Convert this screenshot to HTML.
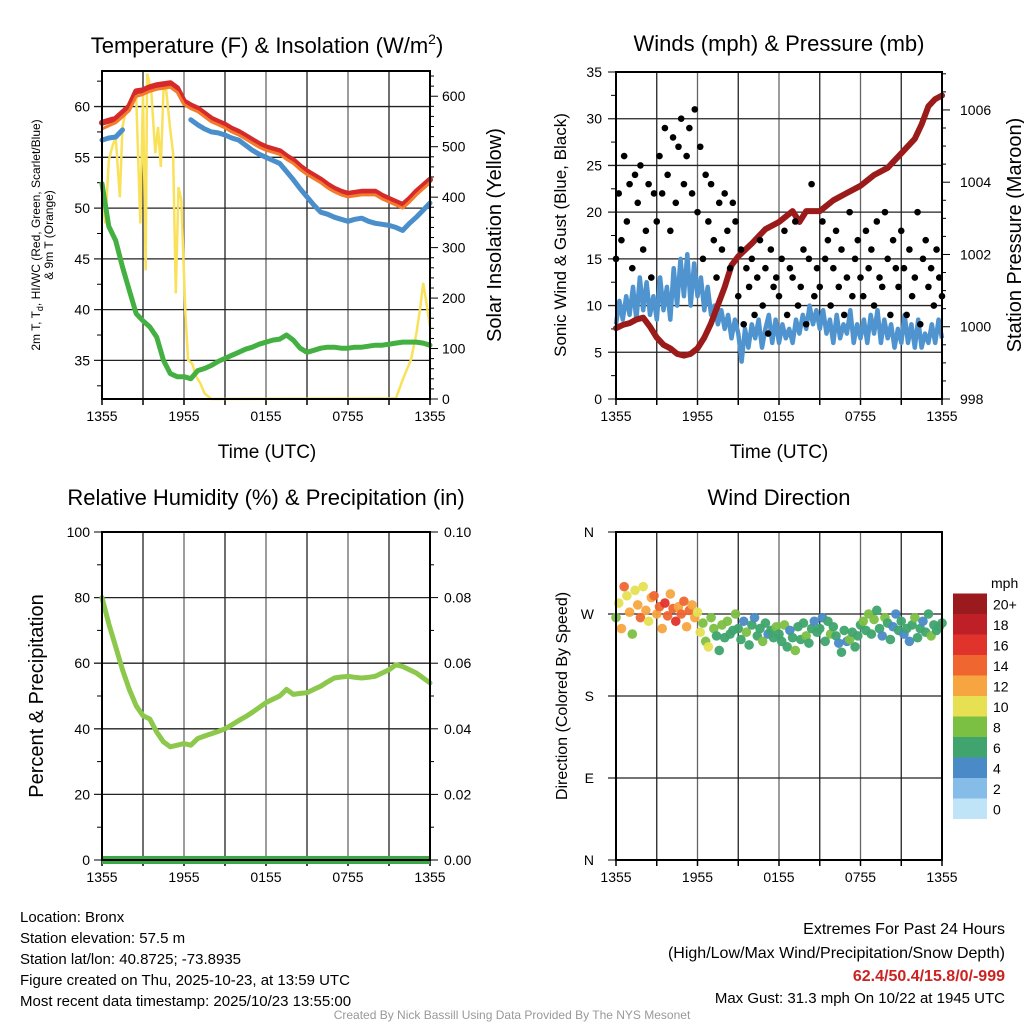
<!DOCTYPE html>
<html><head><meta charset="utf-8"><style>
body{margin:0;background:#fff;}
svg{display:block;font-family:"Liberation Sans",sans-serif;}
</style></head><body>
<svg id="c" width="1024" height="1024" viewBox="0 0 1024 1024"></svg>
<script>
// ---------- data ----------
const xTickLabels=["1355","1955","0155","0755","1355"];
const tHalf=[0,0.5,1,1.5,2,2.5,3,3.5,4,4.5,5,5.5,6,6.5,7,7.5,8,8.5,9,9.5,10,10.5,11,11.5,12,12.5,13,13.5,14,14.5,15,15.5,16,16.5,17,17.5,18,18.5,19,19.5,20,20.5,21,21.5,22,22.5,23,23.5,24];
const tempRed=[58.4,58.6,58.8,59.4,60,61.5,61.6,61.9,62.1,62.2,62.3,61.8,60.5,60.1,59.8,59.3,58.8,58.5,58.2,57.8,57.5,57.1,56.7,56.3,56,55.8,55.6,55.1,54.7,54.1,53.6,53.2,52.8,52.3,51.9,51.6,51.4,51.5,51.6,51.6,51.6,51.2,50.9,50.6,50.3,50.9,51.6,52.2,52.8];
const temp9m=[57.8,58.1,58.4,59,59.6,61,61.2,61.5,61.7,61.8,61.9,61.4,60.2,59.8,59.5,59,58.5,58.2,57.9,57.5,57.2,56.8,56.4,56,55.7,55.5,55.3,54.8,54.4,53.8,53.3,52.9,52.5,52,51.6,51.3,51.1,51.2,51.3,51.3,51.3,50.9,50.6,50.3,50.0,50.6,51.3,51.9,52.5];
const windChill=[56.7,56.9,57,57.7,null,null,null,null,null,null,null,null,null,58.7,58.2,57.8,57.5,57.4,57.2,56.9,56.7,56.2,55.7,55.3,55,54.7,54.4,53.6,52.8,51.9,51.1,50.3,49.6,49.4,49.1,48.9,48.7,48.9,49,48.7,48.5,48.4,48.3,48.1,47.8,48.5,49.1,49.8,50.5];
const dewpoint=[52.4,48.2,46.8,44.2,41.9,39.6,38.9,38.3,37.3,35,33.7,33.4,33.4,33.2,34,34.2,34.5,34.9,35.2,35.5,35.8,36.1,36.3,36.6,36.8,37,37.1,37.5,37,36.2,35.8,36,36.2,36.3,36.3,36.2,36.2,36.3,36.3,36.4,36.5,36.5,36.6,36.7,36.8,36.8,36.8,36.7,36.5];
const solarT=[0,0.25,0.5,0.75,1,1.3,1.5,1.8,2.2,2.5,2.8,3,3.2,3.3,3.6,3.9,4.1,4.3,4.5,4.7,5,5.2,5.4,5.6,5.8,6.1,6.3,6.6,6.9,7.2,7.5,8,21.5,22,22.3,22.6,23,23.3,23.5,23.7,24];
const solarV=[394,348,473,500,519,400,539,579,599,599,348,605,255,645,612,487,539,460,612,612,533,487,209,420,394,170,77,70,44,31,11,0,1,38,58,77,129,183,230,197,143];
const sonicWind=[8,10.5,8.5,11,9,12,8.5,13,9.5,12.5,9,11,8.5,13,9.5,12,8.5,14,10,15,11,15.5,10,14.5,11,13,9.5,12,9,10,8,9.5,7.5,9,6.5,8.5,7,4,7.5,5.5,8,6.5,8.5,5.5,7.5,9,6,8.5,6,8,6.5,7.5,6,8.5,7,9,7.5,10,8,9.5,7.5,9.5,7,8.5,6,9,6.5,8,7,9.5,6,8,6.5,8.5,6,9,7,9.5,6,8.5,6.5,8,5.5,7.5,6,9,6,8,5.5,8.5,5.5,7,6,8,6,8.5,6.5];
const gusts=[15,22,17,26,19,23,14,24,21,25,16,18,23,13,22,19,26,22,29,24,18,28,21,27,30,23,26,29,22,31,20,27,15,24,19,23,17,13,21,16,22,18,14,21,19,11,16,8,14,12,15,9,13,17,10,14,7,16,12,13,11,15,18,9,14,13,19,10,12,16,8,15,23,11,14,12,19,15,17,10,14,18,12,16,9,13,20,11,15,17,13,11,18,14,16,10,19,13,12,20,15,9,17,14,12,18,14,9,16,11,13,20,8,15,17,12,14,10,16,13,11];
const pressT=[0,0.5,1,1.5,2,2.5,3,3.5,4,4.5,5,5.5,6,6.5,7,7.5,8,8.5,9,10,11,12,13,13.5,14,15,16,17,18,19,20,21,22,22.5,23,23.5,24];
const pressure=[999.96,1000.05,1000.1,1000.2,1000.25,1000,999.7,999.5,999.4,999.25,999.2,999.25,999.4,999.7,1000.1,1000.6,1001.1,1001.7,1001.95,1002.3,1002.7,1002.9,1003.2,1002.9,1003.2,1003.2,1003.5,1003.7,1003.9,1004.2,1004.4,1004.8,1005.2,1005.6,1006.1,1006.3,1006.4];
const rh=[80,72,65,58,52,47,44,43,39,36,34.5,35,35.5,35,37,37.8,38.5,39.2,40,41.2,42.5,43.7,45,46.5,48,49,50,52,50.5,50.8,51,52,53,54.3,55.5,55.8,56,55.7,55.5,55.7,56,57,58,59.5,59,58,57,55.5,54];
const precip=[0,0,0,0,0,0,0,0,0,0,0,0,0,0,0,0,0,0,0,0,0,0,0,0,0,0,0,0,0,0,0,0,0,0,0,0,0,0,0,0,0,0,0,0,0,0,0,0,0];
const windDir=[266,282,254,300,290,272,248,296,280,266,300,274,262,288,290,270,278,254,282,268,292,276,262,278,270,284,256,274,280,266,272,250,260,240,234,266,254,246,230,258,244,262,248,252,270,254,242,262,250,236,258,266,246,254,240,260,248,252,244,256,248,240,258,234,252,244,230,256,242,260,246,238,254,262,250,254,266,240,262,248,256,246,238,228,252,240,242,250,234,246,258,262,252,270,248,264,274,254,246,266,260,242,256,270,252,262,248,254,240,258,266,244,254,262,250,270,246,258,252,256,260];
const windSpd=[8,10,12,14,11,13,9,10,12,15,11,13,10,12,14,12,15,13,16,14,12,15,16,13,14,15,12,14,13,12,11,10,9,8,10,9,8,7,6,8,7,9,6,7,8,7,6,5,8,6,7,5,6,7,8,6,5,7,6,8,6,7,8,6,5,7,8,6,7,6,8,7,6,5,7,6,5,7,6,8,7,6,5,7,6,5,8,7,6,7,7,8,6,9,7,8,6,7,5,8,7,6,5,4,7,6,5,7,4,6,8,7,6,5,7,6,8,7,6,7,6];
const speedLabels=["0","2","4","6","8","10","12","14","16","18","20+"];
const speedColors=["#bfe3f7","#86bde8","#4a8ac6","#3fa46e","#7cc043","#e6e052","#f7a540","#ef6630","#e0332b","#bf1f26","#9a1a1e"];
const tempTicks=[35,40,45,50,55,60];
const solarTicks=[0,100,200,300,400,500,600];
const windTicks=[0,5,10,15,20,25,30,35];
const pressTicks=[998,1000,1002,1004,1006];
const rhTicks=[0,20,40,60,80,100];
const precipTicks=["0.00","0.02","0.04","0.06","0.08","0.10"];
const dirTicks=["N","E","S","W","N"];

// ---------- helpers ----------
const NS="http://www.w3.org/2000/svg";
const svg=document.getElementById('c');
function mk(tag,attrs,parent){const e=document.createElementNS(NS,tag);for(const k in attrs)e.setAttribute(k,attrs[k]);(parent||svg).appendChild(e);return e;}
function txt(s,x,y,size,anchor,parent,extra){const e=mk('text',Object.assign({x:x,y:y,'font-size':size,'text-anchor':anchor||'middle',fill:'#000'},extra||{}),parent);e.textContent=s;return e;}
function lin(d0,d1,r0,r1){return v=>r0+(v-d0)*(r1-r0)/(d1-d0);}
function pathFrom(ts,vs,sx,sy){let d='',pen=false;for(let i=0;i<ts.length;i++){if(vs[i]===null){pen=false;continue;}d+=(pen?'L':'M')+sx(ts[i]).toFixed(1)+','+sy(vs[i]).toFixed(1);pen=true;}return d;}

function frame(p,name){
  const g=mk('g',{});
  
  
  for(let h=3;h<24;h+=3){const x=p.sx(h);mk('line',{x1:x,x2:x,y1:p.y0,y2:p.y1,stroke:(h%6? '#222':'#666'),'stroke-width':1.3},g);}
  for(let h=0;h<=24;h+=3){const x=p.sx(h);mk('line',{x1:x,x2:x,y1:p.y1,y2:p.y1+6,stroke:'#000','stroke-width':1.5},g);}
  xTickLabels.forEach((s,i)=>{const t=txt(s,p.sx(i*6),p.y1+22,14,'middle',g);});
  return g;
}
function border(p){const r=mk('rect',{x:p.x0,y:p.y0,width:p.x1-p.x0,height:p.y1-p.y0,fill:'none',stroke:'#000','stroke-width':2});}

// ---------- Panel 1 ----------
const P1={x0:102,x1:430,y0:71,y1:399};
P1.sx=lin(0,24,P1.x0,P1.x1);
const T1=lin(31.2,63.5,P1.y1,P1.y0);
const S1=lin(0,650,P1.y1,P1.y0);
const g1=frame(P1,'temperature-panel');
tempTicks.forEach(v=>{const y=T1(v);mk('line',{x1:P1.x0-8,x2:P1.x1,y1:y,y2:y,stroke:'#222','stroke-width':1.3},g1);const t=txt(String(v),P1.x0-12,y+5,14,'end',g1);mk('line',{x1:P1.x0-5,x2:P1.x0,y1:T1(v+2.5),y2:T1(v+2.5),stroke:'#000'},g1);});
mk('line',{x1:P1.x0-5,x2:P1.x0,y1:T1(32.5),y2:T1(32.5),stroke:'#000'},g1);
for(let v=0;v<=640;v+=20){const y=S1(v);mk('line',{x1:P1.x1,x2:P1.x1+(v%100?4:8),y1:y,y2:y,stroke:'#000'},g1);}
solarTicks.forEach(v=>{const t=txt(String(v),P1.x1+12,S1(v)+5,14,'start',g1);});
let e;
e=mk('path',{d:pathFrom(solarT,solarV,P1.sx,S1),fill:'none',stroke:'#f9e15a','stroke-width':2.5});

e=mk('path',{d:pathFrom(tHalf,dewpoint,P1.sx,T1),fill:'none',stroke:'#43b041','stroke-width':5,'stroke-linejoin':'round','stroke-linecap':'round'});

e=mk('path',{d:pathFrom(tHalf,windChill,P1.sx,T1),fill:'none',stroke:'#4a8fcb','stroke-width':5,'stroke-linejoin':'round','stroke-linecap':'round'});

e=mk('path',{d:pathFrom(tHalf,tempRed,P1.sx,T1),fill:'none',stroke:'#d62a2a','stroke-width':6,'stroke-linejoin':'round','stroke-linecap':'round'});

e=mk('path',{d:pathFrom(tHalf,temp9m,P1.sx,T1),fill:'none',stroke:'#f47a2c','stroke-width':3,'stroke-linejoin':'round'});

border(P1);

// ---------- Panel 2 ----------
const P2={x0:616,x1:942,y0:72,y1:399};
P2.sx=lin(0,24,P2.x0,P2.x1);
const W2=lin(0,35,P2.y1,P2.y0);
const Pr2=lin(998,1007.05,P2.y1,P2.y0);
const g2=frame(P2,'wind-panel');
windTicks.forEach(v=>{const y=W2(v);if(v>0&&v<35)mk('line',{x1:P2.x0-8,x2:P2.x1,y1:y,y2:y,stroke:'#222','stroke-width':1.3},g2);else mk('line',{x1:P2.x0-8,x2:P2.x0,y1:y,y2:y,stroke:'#000'},g2);if(v<35)mk('line',{x1:P2.x0-5,x2:P2.x0,y1:W2(v+2.5),y2:W2(v+2.5),stroke:'#000'},g2);const t=txt(String(v),P2.x0-14,y+5,14,'end',g2);});
for(let v=998;v<=1007;v+=0.5){const y=Pr2(v);mk('line',{x1:P2.x1,x2:P2.x1+(v%2?4:8),y1:y,y2:y,stroke:'#000'},g2);}
pressTicks.forEach(v=>{const t=txt(String(v),P2.x1+18,Pr2(v)+5,14,'start',g2);});
const tQ=sonicWind.map((_,i)=>i*0.25);
e=mk('path',{d:pathFrom(tQ,sonicWind,P2.sx,W2),fill:'none',stroke:'#4f94cf','stroke-width':4.5,'stroke-linejoin':'round'});

e=mk('path',{d:pathFrom(pressT,pressure,P2.sx,Pr2),fill:'none',stroke:'#9b1b1b','stroke-width':6,'stroke-linejoin':'round','stroke-linecap':'round'});

gusts.forEach((v,i)=>{const c=mk('circle',{cx:P2.sx(i*0.2),cy:W2(v),r:3.3,fill:'#000'});});
border(P2);

// ---------- Panel 3 ----------
const P3={x0:102,x1:430,y0:532,y1:860};
P3.sx=lin(0,24,P3.x0,P3.x1);
const R3=lin(0,100,P3.y1,P3.y0);
const g3=frame(P3,'humidity-panel');
rhTicks.forEach((v,i)=>{const y=R3(v);if(v>0&&v<100)mk('line',{x1:P3.x0-8,x2:P3.x1,y1:y,y2:y,stroke:'#222','stroke-width':1.3},g3);else mk('line',{x1:P3.x0-8,x2:P3.x0,y1:y,y2:y,stroke:'#000'},g3);let t=txt(String(v),P3.x0-12,y+5,14,'end',g3);
 mk('line',{x1:P3.x1,x2:P3.x1+8,y1:y,y2:y,stroke:'#000'},g3);
 if(v<100){mk('line',{x1:P3.x0-5,x2:P3.x0,y1:R3(v+10),y2:R3(v+10),stroke:'#000'},g3);mk('line',{x1:P3.x1,x2:P3.x1+4,y1:R3(v+10),y2:R3(v+10),stroke:'#000'},g3);}
 t=txt(precipTicks[i],P3.x1+14,y+5,14,'start',g3);});
const Pc3=lin(0,0.1,P3.y1,P3.y0);
e=mk('path',{d:pathFrom(tHalf,precip,P3.sx,Pc3),fill:'none',stroke:'#3aa845','stroke-width':8});

e=mk('path',{d:pathFrom(tHalf,rh,P3.sx,R3),fill:'none',stroke:'#8cc84b','stroke-width':5,'stroke-linejoin':'round','stroke-linecap':'round'});

border(P3);

// ---------- Panel 4 ----------
const P4={x0:616,x1:942,y0:532,y1:860};
P4.sx=lin(0,24,P4.x0,P4.x1);
const D4=lin(0,360,P4.y1,P4.y0);
const g4=frame(P4,'wind-direction-panel');
dirTicks.forEach((s,i)=>{const y=D4(i*90);if(i>0&&i<4)mk('line',{x1:P4.x0-8,x2:P4.x1,y1:y,y2:y,stroke:'#222','stroke-width':1.3},g4);else mk('line',{x1:P4.x0-8,x2:P4.x0,y1:y,y2:y,stroke:'#000'},g4);const t=txt(s,P4.x0-22,y+5,14,'end',g4);});
windDir.forEach((d,i)=>{const k=Math.min(10,Math.floor(windSpd[i]/2));const c=mk('circle',{cx:P4.sx(i*0.2),cy:D4(d),r:4.8,fill:speedColors[k],'fill-opacity':0.95});});
border(P4);
const cb=mk('g',{});

speedColors.forEach((col,i)=>{const y=819-(i+1)*20.5;mk('rect',{x:953,y:y,width:34,height:20.5,fill:col},cb);const t=txt(speedLabels[i],993,y+16,14,'start',cb);});
txt('mph',991,588,14,'start',cb);

// ---------- titles & labels ----------
const T=[
 ['Relative Humidity (%) & Precipitation (in)',266,505,22,'panel-title'],
 ['Winds (mph) & Pressure (mb)',779,51,22,'panel-title'],
 ['Wind Direction',779,505,22,'panel-title'],
 ['Time (UTC)',267,458,19,'x-axis-title'],
 ['Time (UTC)',779,458,19,'x-axis-title']];
T.forEach(a=>{const t=txt(a[0],a[1],a[2],a[3]);});
const t1=mk('text',{x:267,y:53,'font-size':22,'text-anchor':'middle'});

t1.innerHTML='Temperature (F) &amp; Insolation (W/m<tspan dy="-9" font-size="14">2</tspan><tspan dy="9">)</tspan>';
function rot(s,x,y,size,name){const t=txt(s,x,y,size,'middle',svg,{transform:'rotate(-90 '+x+' '+y+')'});return t;}
const yl=mk('text',{x:40,y:235,'font-size':12,'text-anchor':'middle',transform:'rotate(-90 40 235)'});

yl.innerHTML='2m T, T<tspan dy="3" font-size="9">d</tspan><tspan dy="-3">, HI/WC (Red, Green, Scarlet/Blue)</tspan>';
rot('& 9m T (Orange)',53,235,12,'y-axis-title');
rot('Solar Insolation (Yellow)',501,235,20,'y-axis-right-title');
rot('Sonic Wind & Gust (Blue, Black)',566,235,17,'y-axis-title');
rot('Station Pressure (Maroon)',1021,235,20,'y-axis-right-title');
rot('Percent & Precipitation',43,696,20,'y-axis-title');
rot('Direction (Colored By Speed)',567,696,16,'y-axis-title');

// ---------- footer ----------
const info=['Location: Bronx','Station elevation: 57.5 m','Station lat/lon: 40.8725; -73.8935','Figure created on Thu, 2025-10-23, at 13:59 UTC','Most recent data timestamp: 2025/10/23 13:55:00'];
info.forEach((s,i)=>{const t=txt(s,20,922+i*21,15,'start');});
[['Extremes For Past 24 Hours',934],['(High/Low/Max Wind/Precipitation/Snow Depth)',958]].forEach(a=>{const t=txt(a[0],1005,a[1],16,'end');});
const ex=txt('62.4/50.4/15.8/0/-999',1005,981,16,'end',svg,{fill:'#cc2222','font-weight':'bold'});

const mg=txt('Max Gust: 31.3 mph On 10/22 at 1945 UTC',1005,1003,15,'end');

const cr=txt('Created By Nick Bassill Using Data Provided By The NYS Mesonet',512,1019,12,'middle',svg,{fill:'#999'});

</script>
</body></html>
